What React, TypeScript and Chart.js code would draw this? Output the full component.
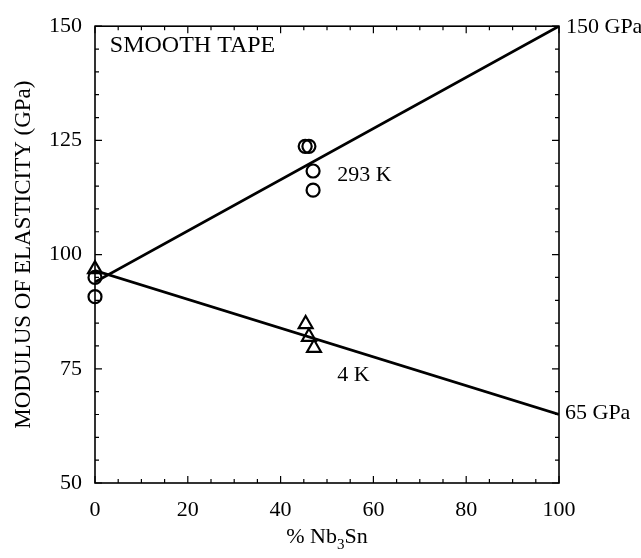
import React, { useEffect, useRef } from "react";
import { Chart, registerables } from "chart.js";

Chart.register(...registerables);

const X_MIN = 0;
const X_MAX = 100;
const Y_MIN = 50;
const Y_MAX = 150;

// 293 K fit line endpoints (% Nb3Sn, GPa)
const line293X = [0, 100];
const line293Y = [94, 150];
// 4 K fit line endpoints
const line4X = [0, 100];
const line4Y = [96.5, 65];

// 293 K measurements (circles)
const circlesX = [0, 0, 45.3, 46.1, 47, 47];
const circlesY = [95, 90.8, 123.7, 123.7, 118.3, 114.1];
// 4 K measurements (triangles)
const trianglesX = [0, 45.4, 46.1, 47.2];
const trianglesY = [96.8, 84.8, 82, 79.6];

const xTickLabels = ["0", "20", "40", "60", "80", "100"];
const yTickLabels = ["50", "75", "100", "125", "150"];

const FONT = "'Liberation Serif', 'Times New Roman', serif";

const toPts = (xs: number[], ys: number[]) => xs.map((x, i) => ({ x, y: ys[i] }));

const decorPlugin = {
  id: "decor",
  afterDraw(chart: any) {
    const ctx = chart.ctx;
    const { left, right, top, bottom } = chart.chartArea;
    const xs = chart.scales.x;
    const ys = chart.scales.y;
    ctx.save();
    ctx.strokeStyle = "#000";
    ctx.lineWidth = 1.6;
    ctx.strokeRect(left, top, right - left, bottom - top);
    ctx.lineWidth = 1.2;
    ctx.beginPath();
    for (let v = X_MIN; v <= X_MAX; v += 5) {
      const px = xs.getPixelForValue(v);
      const len = v % 20 === 0 ? 7 : 4;
      ctx.moveTo(px, bottom);
      ctx.lineTo(px, bottom - len);
      ctx.moveTo(px, top);
      ctx.lineTo(px, top + len);
    }
    for (let v = Y_MIN; v <= Y_MAX; v += 5) {
      const py = ys.getPixelForValue(v);
      const len = (v - Y_MIN) % 25 === 0 ? 7 : 4;
      ctx.moveTo(left, py);
      ctx.lineTo(left + len, py);
      ctx.moveTo(right, py);
      ctx.lineTo(right - len, py);
    }
    ctx.stroke();

    ctx.fillStyle = "#000";
    ctx.textBaseline = "alphabetic";
    ctx.textAlign = "left";
    const put = (t: string, dx: number, dy: number) =>
      ctx.fillText(t, xs.getPixelForValue(dx), ys.getPixelForValue(dy));
    ctx.font = `24px ${FONT}`;
    put("SMOOTH TAPE", 3.2, 144.4);
    ctx.font = `22px ${FONT}`;
    put("293 K", 52.2, 116.1);
    put("4 K", 52.2, 72.4);
    ctx.fillText("150 GPa", right + 7, ys.getPixelForValue(148.5));
    ctx.fillText("65 GPa", right + 6, ys.getPixelForValue(64.1));

    // x title with subscript
    const cx = (left + right) / 2;
    const base = 543;
    ctx.font = `22px ${FONT}`;
    const p1 = "% Nb";
    const p3 = "Sn";
    const w1 = ctx.measureText(p1).width;
    const w3 = ctx.measureText(p3).width;
    ctx.font = `15px ${FONT}`;
    const w2 = ctx.measureText("3").width;
    const total = w1 + w2 + w3;
    const x0 = cx - total / 2;
    ctx.font = `22px ${FONT}`;
    ctx.fillText(p1, x0, base);
    ctx.font = `15px ${FONT}`;
    ctx.fillText("3", x0 + w1, base + 6);
    ctx.font = `22px ${FONT}`;
    ctx.fillText(p3, x0 + w1 + w2, base);

    // y title
    ctx.translate(24, (top + bottom) / 2);
    ctx.rotate(-Math.PI / 2);
    ctx.textAlign = "center";
    ctx.textBaseline = "middle";
    ctx.font = `23px ${FONT}`;
    ctx.fillText("MODULUS OF ELASTICITY (GPa)", 0, 0);
    ctx.restore();
  },
};

export default function App() {
  const ref = useRef<HTMLCanvasElement | null>(null);
  useEffect(() => {
    if (!ref.current) return;
    const chart = new Chart(ref.current, {
      type: "scatter",
      data: {
        datasets: [
          {
            type: "line",
            label: "293 K fit",
            data: toPts(line293X, line293Y),
            borderColor: "#000",
            borderWidth: 2.8,
            pointRadius: 0,
            fill: false,
          },
          {
            type: "line",
            label: "4 K fit",
            data: toPts(line4X, line4Y),
            borderColor: "#000",
            borderWidth: 2.8,
            pointRadius: 0,
            fill: false,
          },
          {
            label: "293 K",
            data: toPts(circlesX, circlesY),
            pointStyle: "circle",
            pointRadius: 6.5,
            borderColor: "#000",
            borderWidth: 2.2,
            backgroundColor: "rgba(0,0,0,0)",
            clip: false,
          },
          {
            label: "4 K",
            data: toPts(trianglesX, trianglesY),
            pointStyle: "triangle",
            pointRadius: 8,
            borderColor: "#000",
            borderWidth: 2.2,
            backgroundColor: "rgba(0,0,0,0)",
            clip: false,
          },
        ],
      } as any,
      options: {
        animation: false,
        responsive: false,
        maintainAspectRatio: false,
        layout: { padding: { top: 22, right: 82, left: 0, bottom: 0 } },
        plugins: { legend: { display: false }, tooltip: { enabled: false } },
        scales: {
          x: {
            type: "linear",
            min: X_MIN,
            max: X_MAX,
            afterFit: (s: any) => {
              s.height = 75;
            },
            grid: { display: false, drawTicks: false },
            border: { display: false },
            afterBuildTicks: (s: any) => {
              s.ticks = xTickLabels.map((t) => ({ value: Number(t) }));
            },
            ticks: {
              color: "#000",
              padding: 14,
              maxRotation: 0,
              font: { family: FONT, size: 22 },
              callback: (v: any) => String(v),
            },
          },
          y: {
            type: "linear",
            min: Y_MIN,
            max: Y_MAX,
            afterFit: (s: any) => {
              s.width = 95;
            },
            grid: { display: false, drawTicks: false },
            border: { display: false },
            afterBuildTicks: (s: any) => {
              s.ticks = yTickLabels.map((t) => ({ value: Number(t) }));
            },
            ticks: {
              color: "#000",
              padding: 13,
              font: { family: FONT, size: 22 },
              callback: (v: any) => String(v),
            },
          },
        },
      } as any,
      plugins: [decorPlugin],
    });
    return () => chart.destroy();
  }, []);
  return (
    <div style={{ position: "absolute", left: 0, top: 0, width: 641, height: 558, background: "#fff" }}>
      <canvas ref={ref} width={641} height={558} />
    </div>
  );
}
